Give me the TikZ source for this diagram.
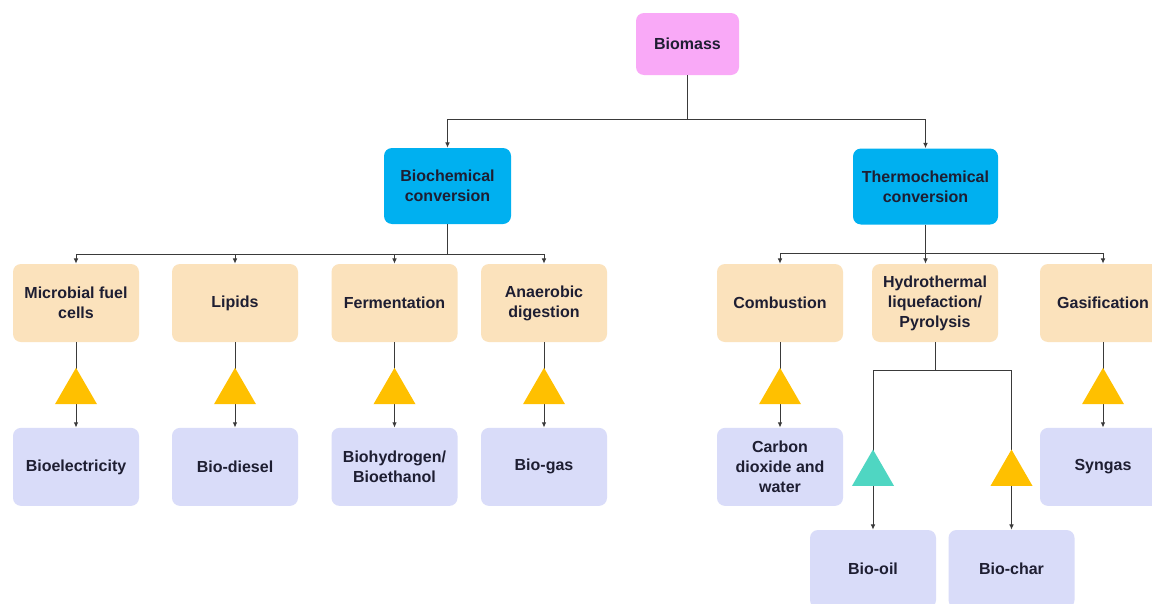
\documentclass[tikz,border=0pt]{standalone}
\usepackage{fontspec}
\setmainfont{Liberation Sans}
\usepackage{xcolor}
\usepackage{tikz}
\usetikzlibrary{shapes.geometric, arrows.meta, positioning}
\definecolor{biomasspink}{HTML}{F9A9F7}
\definecolor{convblue}{HTML}{00B0F0}
\definecolor{procpeach}{HTML}{FBE2BC}
\definecolor{prodlilac}{HTML}{D9DCF9}
\definecolor{triyellow}{HTML}{FFC000}
\definecolor{triteal}{HTML}{4FD6C2}
\definecolor{linegray}{HTML}{3A3A3A}
\definecolor{textdark}{HTML}{1E1E32}
\tikzstyle{arrow} = [line width=0.75pt, draw=linegray, -{Latex[length=4pt,width=3.5pt]}]
\tikzstyle{line} = [line width=0.75pt, draw=linegray]

\begin{document}
\begin{tikzpicture}[x=0.75pt, y=-0.75pt]
    \tikzstyle{block} = [rectangle, rounded corners=6pt, text=textdark, align=center,
        inner sep=0pt, minimum width=94.5pt, minimum height=58.5pt,
        font=\fontsize{12}{15}\selectfont\bfseries]
    \tikzstyle{process} = [block, fill=procpeach]
    \tikzstyle{product} = [block, fill=prodlilac]
    \tikzstyle{conversion} = [block, fill=convblue, minimum height=57pt]
    \tikzstyle{tri} = [regular polygon, regular polygon sides=3, inner sep=0pt,
        minimum size=36.4pt, fill=triyellow]
    \path [use as bounding box, fill=white] (0,0) rectangle (1152,603);

    \node [block, fill=biomasspink, minimum width=77.25pt, minimum height=46.5pt] (biomass) at (687.5,44) {Biomass};
    \node [conversion, minimum width=95.25pt] (biochem) at (447.5,186) {Biochemical\\conversion};
    \node [conversion, minimum width=108.75pt] (thermo) at (925.5,186.5) {Thermochemical\\conversion};

    % Processes
    \node [process] (mfc) at (76,303) {Microbial fuel\\cells};
    \node [process] (lipids) at (235,303) {Lipids};
    \node [process] (ferment) at (394.5,303) {Fermentation};
    \node [process] (anaerobic) at (544,303) {Anaerobic\\digestion};
    \node [process] (combustion) at (780,303) {Combustion};
    \node [process] (hydro) at (935,303) {Hydrothermal\\liquefaction/\\Pyrolysis};
    \node [process] (gasif) at (1103,303) {Gasification};

    % Products
    \node [product] (bioelec) [below=64pt of mfc] {Bioelectricity};
    \node [product] (biodiesel) [below=64pt of lipids] {Bio-diesel};
    \node [product] (biohydro) [below=64pt of ferment] {Biohydrogen/\\Bioethanol};
    \node [product] (biogas) [below=64pt of anaerobic] {Bio-gas};
    \node [product] (co2) [below=64pt of combustion] {Carbon\\dioxide and\\water};
    \node [product] (syngas) [below=64pt of gasif] {Syngas};
    \node [product] (biooil) at (873,569) {Bio-oil};
    \node [product] (biochar) at (1011.5,569) {Bio-char};

    % Arrows
    \draw [arrow] (biomass.south) -- ++(0,44) -| (biochem.north);
    \draw [arrow] (biomass.south) -- ++(0,44) -| (thermo.north);
    \foreach \p in {mfc,lipids,ferment,anaerobic}
        \draw [arrow] (biochem.south) -- ++(0,30) -| (\p.north);
    \foreach \p in {combustion,gasif}
        \draw [arrow] (thermo.south) -- ++(0,29) -| (\p.north);
    \draw [arrow] (thermo.south) -- (thermo.south |- hydro.north);

    \foreach \p/\q in {mfc/bioelec, lipids/biodiesel, ferment/biohydro,
                       anaerobic/biogas, combustion/co2, gasif/syngas}
        \draw [arrow] (\p.south) -- (\q.north);
    \draw [line] (hydro.south) -- ++(0,28) coordinate (hsplit);
    \draw [arrow] (hsplit) -| (biooil.north);
    \draw [arrow] (hsplit) -| (biochar.north);

    % Triangles
    \foreach \p in {mfc,lipids,ferment,anaerobic,combustion,gasif}
        \node [tri, below=18.75pt of \p] (t\p) {};
    \node [tri, fill=triteal, anchor=north] (toil) at (873,449) {};
    \node [tri, anchor=north] (tchar) at (1011.5,449) {};

\end{tikzpicture}
\end{document}
